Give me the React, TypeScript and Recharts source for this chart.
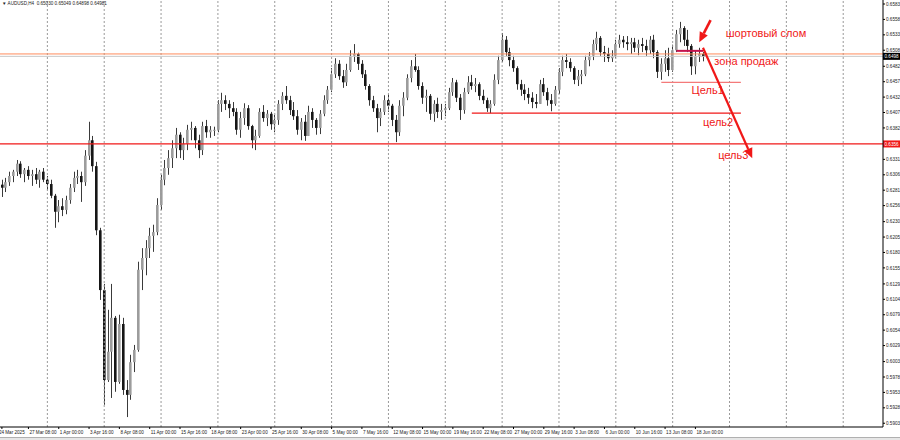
import { ComposedChart, Bar, XAxis, YAxis, ReferenceLine, ReferenceDot } from "recharts";

const symbolTitle = "\u25BC AUDUSD,H4  0.65030 0.65049 0.64898 0.64981";

// 8-hour candles (open = previous close)
const firstOpen = 0.629;
const highs = [
  0.6298, 0.6301, 0.6311, 0.6314, 0.6330, 0.6328, 0.6317, 0.6320, 0.6314, 0.6317,
  0.6314, 0.6317, 0.6304, 0.6298, 0.6275, 0.6265, 0.6268, 0.6272, 0.6291, 0.6311,
  0.6314, 0.6311, 0.6346, 0.6392, 0.6369, 0.6327, 0.6220, 0.6129, 0.6087, 0.6129,
  0.6077, 0.6079, 0.6074, 0.5973, 0.6014, 0.6030, 0.6165, 0.6187, 0.6200, 0.6220,
  0.6225, 0.6268, 0.6306, 0.6330, 0.6346, 0.6362, 0.6382, 0.6375, 0.6366, 0.6387,
  0.6392, 0.6385, 0.6371, 0.6392, 0.6395, 0.6385, 0.6384, 0.6427, 0.6439, 0.6435,
  0.6427, 0.6424, 0.6414, 0.6408, 0.6422, 0.6419, 0.6387, 0.6379, 0.6414, 0.6419,
  0.6411, 0.6408, 0.6403, 0.6427, 0.6440, 0.6450, 0.6434, 0.6424, 0.6411, 0.6398,
  0.6403, 0.6418, 0.6414, 0.6398, 0.6411, 0.6435, 0.6450, 0.6479, 0.6495, 0.6492,
  0.6476, 0.6486, 0.6508, 0.6518, 0.6504, 0.6492, 0.6476, 0.6453, 0.6434, 0.6421,
  0.6414, 0.6435, 0.6437, 0.6421, 0.6403, 0.6427, 0.6440, 0.6469, 0.6492, 0.6502,
  0.6482, 0.6456, 0.6444, 0.6437, 0.6427, 0.6431, 0.6421, 0.6421, 0.6447, 0.6463,
  0.6460, 0.6437, 0.6447, 0.6466, 0.6468, 0.6463, 0.6456, 0.6444, 0.6431, 0.6427,
  0.6469, 0.6499, 0.6536, 0.6531, 0.6512, 0.6499, 0.6482, 0.6460, 0.6453, 0.6447,
  0.6440, 0.6437, 0.6460, 0.6463, 0.6447, 0.6437, 0.6450, 0.6479, 0.6499, 0.6502,
  0.6495, 0.6482, 0.6476, 0.6476, 0.6499, 0.6505, 0.6525, 0.6538, 0.6531, 0.6515,
  0.6512, 0.6508, 0.6525, 0.6533, 0.6531, 0.6531, 0.6528, 0.6528, 0.6525, 0.6528,
  0.6525, 0.6531, 0.6533, 0.6508, 0.6495, 0.6508, 0.6512, 0.6517, 0.6541, 0.6554,
  0.6547, 0.6541, 0.6518, 0.6508, 0.6512, 0.6505,
];
const lows = [
  0.6270, 0.6278, 0.6288, 0.6294, 0.6304, 0.6301, 0.6294, 0.6298, 0.6288, 0.6291,
  0.6285, 0.6294, 0.6281, 0.6268, 0.6220, 0.6229, 0.6239, 0.6242, 0.6259, 0.6278,
  0.6291, 0.6262, 0.6288, 0.6330, 0.6311, 0.6208, 0.6103, 0.5933, 0.5970, 0.5944,
  0.5954, 0.5967, 0.5949, 0.5913, 0.5941, 0.5986, 0.6019, 0.6119, 0.6143, 0.6171,
  0.6181, 0.6208, 0.6249, 0.6289, 0.6306, 0.6317, 0.6333, 0.6333, 0.6330, 0.6346,
  0.6362, 0.6349, 0.6333, 0.6338, 0.6366, 0.6366, 0.6369, 0.6375, 0.6408, 0.6411,
  0.6398, 0.6401, 0.6371, 0.6366, 0.6387, 0.6379, 0.6349, 0.6346, 0.6366, 0.6392,
  0.6385, 0.6379, 0.6375, 0.6387, 0.6411, 0.6421, 0.6403, 0.6395, 0.6371, 0.6362,
  0.6361, 0.6369, 0.6382, 0.6371, 0.6372, 0.6401, 0.6421, 0.6440, 0.6463, 0.6460,
  0.6447, 0.6450, 0.6473, 0.6489, 0.6476, 0.6463, 0.6444, 0.6418, 0.6408, 0.6375,
  0.6385, 0.6403, 0.6408, 0.6385, 0.6359, 0.6369, 0.6401, 0.6427, 0.6456, 0.6473,
  0.6444, 0.6421, 0.6408, 0.6395, 0.6392, 0.6398, 0.6395, 0.6401, 0.6411, 0.6434,
  0.6424, 0.6395, 0.6405, 0.6437, 0.6444, 0.6440, 0.6427, 0.6421, 0.6408, 0.6406,
  0.6418, 0.6453, 0.6489, 0.6499, 0.6482, 0.6473, 0.6444, 0.6434, 0.6427, 0.6421,
  0.6414, 0.6414, 0.6421, 0.6434, 0.6418, 0.6409, 0.6418, 0.6437, 0.6466, 0.6479,
  0.6473, 0.6453, 0.6450, 0.6453, 0.6466, 0.6482, 0.6492, 0.6508, 0.6499, 0.6489,
  0.6489, 0.6489, 0.6495, 0.6512, 0.6512, 0.6508, 0.6502, 0.6505, 0.6500, 0.6505,
  0.6499, 0.6502, 0.6495, 0.6463, 0.6460, 0.6473, 0.6466, 0.6473, 0.6505, 0.6521,
  0.6515, 0.6505, 0.6468, 0.6469, 0.6489, 0.6490,
];
const closes = [
  0.6285, 0.6294, 0.6304, 0.6311, 0.6324, 0.6307, 0.6314, 0.6304, 0.6307, 0.6298,
  0.6311, 0.6298, 0.6291, 0.6272, 0.6246, 0.6255, 0.6249, 0.6265, 0.6285, 0.6301,
  0.6304, 0.6294, 0.6337, 0.6362, 0.6320, 0.6216, 0.6119, 0.5973, 0.6019, 0.6074,
  0.5970, 0.6064, 0.5957, 0.5949, 0.6002, 0.6022, 0.6152, 0.6171, 0.6187, 0.6207,
  0.6213, 0.6257, 0.6298, 0.6317, 0.6333, 0.6349, 0.6371, 0.6346, 0.6356, 0.6379,
  0.6382, 0.6362, 0.6346, 0.6385, 0.6375, 0.6379, 0.6379, 0.6421, 0.6427, 0.6421,
  0.6414, 0.6408, 0.6379, 0.6398, 0.6414, 0.6385, 0.6362, 0.6369, 0.6408, 0.6398,
  0.6405, 0.6388, 0.6395, 0.6421, 0.6434, 0.6427, 0.6411, 0.6401, 0.6379, 0.6392,
  0.6369, 0.6408, 0.6395, 0.6382, 0.6405, 0.6427, 0.6444, 0.6469, 0.6486, 0.6466,
  0.6456, 0.6476, 0.6499, 0.6502, 0.6486, 0.6469, 0.6450, 0.6427, 0.6414, 0.6398,
  0.6408, 0.6427, 0.6418, 0.6395, 0.6375, 0.6418, 0.6431, 0.6463, 0.6482, 0.6476,
  0.6450, 0.6431, 0.6434, 0.6405, 0.6421, 0.6408, 0.6411, 0.6414, 0.6440, 0.6456,
  0.6431, 0.6411, 0.6440, 0.6456, 0.6450, 0.6453, 0.6434, 0.6427, 0.6414, 0.6421,
  0.6460, 0.6492, 0.6525, 0.6505, 0.6492, 0.6479, 0.6453, 0.6444, 0.6437, 0.6431,
  0.6424, 0.6421, 0.6453, 0.6440, 0.6427, 0.6421, 0.6444, 0.6473, 0.6492, 0.6489,
  0.6479, 0.6460, 0.6466, 0.6469, 0.6492, 0.6499, 0.6518, 0.6528, 0.6505, 0.6502,
  0.6495, 0.6499, 0.6518, 0.6525, 0.6521, 0.6518, 0.6521, 0.6512, 0.6518, 0.6515,
  0.6508, 0.6525, 0.6505, 0.6473, 0.6486, 0.6495, 0.6476, 0.6508, 0.6534, 0.6544,
  0.6525, 0.6515, 0.6482, 0.6499, 0.6502, 0.6498,
];

const totalSlots = 233;
const timeLabels = [
  "24 Mar 2025", "27 Mar 08:00", "1 Apr 00:00", "3 Apr 16:00", "8 Apr 08:00", "11 Apr 00:00",
  "15 Apr 16:00", "18 Apr 08:00", "23 Apr 00:00", "25 Apr 16:00", "30 Apr 08:00", "5 May 00:00",
  "7 May 16:00", "12 May 08:00", "15 May 00:00", "19 May 16:00", "22 May 08:00", "27 May 00:00",
  "29 May 16:00", "3 Jun 08:00", "6 Jun 00:00", "10 Jun 16:00", "13 Jun 08:00", "18 Jun 00:00",
];
const priceTicks = [
  0.6583, 0.6558, 0.6533, 0.6508, 0.6482, 0.6457, 0.6432, 0.6407, 0.6382, 0.6331,
  0.6306, 0.6281, 0.6256, 0.6230, 0.6205, 0.6180, 0.6155, 0.6129, 0.6104, 0.6079,
  0.6054, 0.6029, 0.6003, 0.5978, 0.5953, 0.5928, 0.5903,
];
const gridSlots = [12, 27, 42, 57, 72, 87, 102, 117, 132, 147, 162, 177, 192, 207, 222];

// levels and annotation points
const supportLevel = 0.6356;
const orangeLevel = 0.6502;
const bidPrice = 0.64981;
const sellZone = { from: 178, to: 185, price: 0.6507 };
const target1 = { from: 174, to: 195, price: 0.6456 };
const target2 = { from: 124, to: 195, price: 0.6406 };
const breakArrow = [{ x: 187, y: 0.6557 }, { x: 184, y: 0.6521 }];
const mainArrow = [{ x: 185, y: 0.6512 }, { x: 198, y: 0.6333 }];
const notes = [
  { x: 191, y: 0.6536, text: "шортовый слом" },
  { x: 188, y: 0.6491, text: "зона продаж" },
  { x: 182, y: 0.6443, text: "Цель1" },
  { x: 185, y: 0.6391, text: "цель2" },
  { x: 189, y: 0.6338, text: "цель3" },
];

const candles = closes.map((c, i) => ({
  i,
  o: i === 0 ? firstOpen : closes[i - 1],
  h: highs[i],
  l: lows[i],
  c,
  range: [lows[i], highs[i]],
}));
const data = Array.from({ length: totalSlots }, (_, i) => candles[i] ?? { i });
const tickSlots = timeLabels.map((_, j) => (j === 0 ? 0 : 7 + 8 * (j - 1)));
const labelAt: { [k: number]: string } = {};
tickSlots.forEach((s, j) => (labelAt[s] = timeLabels[j]));

const RED = "#f01818";
const axisFont = "'Liberation Sans', Arial, sans-serif";

function Candle(props: any) {
  const { x, y, width, height, payload } = props;
  if (!payload || payload.h == null) return null;
  const top = Math.min(y, y + height);
  const h = Math.abs(height);
  const span = payload.h - payload.l || 1e-9;
  const toY = (p: number) => top + ((payload.h - p) / span) * h;
  const cx = Math.round(x + width / 2) + 0.5;
  const bTop = toY(Math.max(payload.o, payload.c));
  const bBot = toY(Math.min(payload.o, payload.c));
  const bull = payload.c >= payload.o;
  return (
    <g>
      <line x1={cx} x2={cx} y1={top} y2={top + h} stroke="#3a3a3a" strokeWidth={1} />
      <rect
        x={cx - 1.5}
        y={bTop}
        width={2.6}
        height={Math.max(1, bBot - bTop)}
        fill={bull ? "#9c9c9c" : "#161616"}
      />
    </g>
  );
}

function Arrow(props: any) {
  const { x1, y1, x2, y2, w } = props;
  const ang = Math.atan2(y2 - y1, x2 - x1);
  const len = 10;
  const half = 4.5;
  const bx = x2 - len * Math.cos(ang);
  const by = y2 - len * Math.sin(ang);
  const px = -Math.sin(ang) * half;
  const py = Math.cos(ang) * half;
  return (
    <g>
      <line x1={x1} y1={y1} x2={bx} y2={by} stroke={RED} strokeWidth={w} />
      <polygon points={`${x2},${y2} ${bx + px},${by + py} ${bx - px},${by - py}`} fill={RED} />
    </g>
  );
}

function PriceTag(props: any) {
  const { viewBox, bg, text } = props;
  if (!viewBox) return null;
  const x = viewBox.x + viewBox.width;
  const y = viewBox.y;
  return (
    <g>
      <rect x={x} y={y - 3.5} width={17} height={7} fill={bg} />
      <text x={x + 1.5} y={y} dy="0.35em" fontSize={4.6} fill="#fff" fontFamily={axisFont}>
        {text}
      </text>
    </g>
  );
}

function TimeTick(props: any) {
  const { x, y, payload } = props;
  const label = labelAt[payload.value];
  if (!label) return null;
  return (
    <text x={x + 1 + (payload.value === 0 ? -4 : 0)} y={y + 4} fontSize={4.6} fill="#222" fontFamily={axisFont}>
      {label}
    </text>
  );
}

export default function App() {
  return (
    <div style={{ position: "absolute", left: 0, top: 0, width: 900, height: 440, background: "#fff", overflow: "hidden" }}>
      <ComposedChart width={900} height={437} data={data} margin={{ top: 0, right: 0, bottom: 0, left: 0 }}>
        <XAxis
          dataKey="i"
          type="category"
          ticks={tickSlots}
          interval={0}
          height={10}
          tickSize={2}
          tickMargin={1}
          tick={<TimeTick />}
          axisLine={{ stroke: "#000" }}
          tickLine={{ stroke: "#000" }}
        />
        <YAxis
          orientation="right"
          type="number"
          domain={[0.58969, 0.65895]}
          allowDataOverflow
          ticks={priceTicks}
          interval={0}
          width={17}
          tickSize={2}
          tickMargin={1}
          tickFormatter={(v: number) => v.toFixed(4)}
          tick={{ fontSize: 4.6, fill: "#222", fontFamily: axisFont }}
          axisLine={{ stroke: "#000" }}
          tickLine={{ stroke: "#000" }}
        />
        {gridSlots.map((s) => (
          <ReferenceLine key={s} x={s} stroke="#9a9a9a" strokeDasharray="2 2" strokeWidth={1} />
        ))}
        <ReferenceLine y={orangeLevel} stroke="#ff8c5c" strokeWidth={1} />
        <ReferenceLine
          y={bidPrice}
          stroke="#c8c8c8"
          strokeWidth={1}
          label={{ content: (p: any) => <PriceTag viewBox={p.viewBox} bg="#000" text="0.6498" /> }}
        />
        <Bar dataKey="range" barSize={3} shape={<Candle />} isAnimationActive={false} />
        <ReferenceLine
          y={supportLevel}
          stroke={RED}
          strokeWidth={1.2}
          label={{ content: (p: any) => <PriceTag viewBox={p.viewBox} bg={RED} text="0.6356" /> }}
        />
        <ReferenceLine
          segment={[{ x: target2.from, y: target2.price }, { x: target2.to, y: target2.price }]}
          stroke={RED}
          strokeWidth={1.2}
        />
        <ReferenceLine
          segment={[{ x: target1.from, y: target1.price }, { x: target1.to, y: target1.price }]}
          stroke="#f47a7a"
          strokeWidth={1.2}
        />
        <ReferenceLine
          segment={[{ x: sellZone.from, y: sellZone.price }, { x: sellZone.to, y: sellZone.price }]}
          stroke="#c4124c"
          strokeWidth={2}
        />
        <ReferenceLine segment={breakArrow} shape={(p: any) => <Arrow {...p} w={2.6} />} />
        <ReferenceLine segment={mainArrow} shape={(p: any) => <Arrow {...p} w={2.2} />} />
        {notes.map((n) => (
          <ReferenceDot
            key={n.text}
            x={n.x}
            y={n.y}
            r={0}
            shape={(p: any) => (
              <text x={p.cx} y={p.cy} dy="0.35em" fontSize={11} fill={RED} fontFamily="'Liberation Sans', Arial, sans-serif">
                {n.text}
              </text>
            )}
          />
        ))}
      </ComposedChart>
      <div
        style={{
          position: "absolute",
          left: 2,
          top: 1,
          fontSize: 4.6,
          fontFamily: axisFont,
          color: "#222",
          lineHeight: "6px",
          whiteSpace: "pre",
        }}
      >
        {symbolTitle}
      </div>
      <div style={{ position: "absolute", left: 0, top: 437, width: 900, height: 3, background: "#e6e6e6", borderTop: "1px solid #b0b0b0" }} />
    </div>
  );
}
